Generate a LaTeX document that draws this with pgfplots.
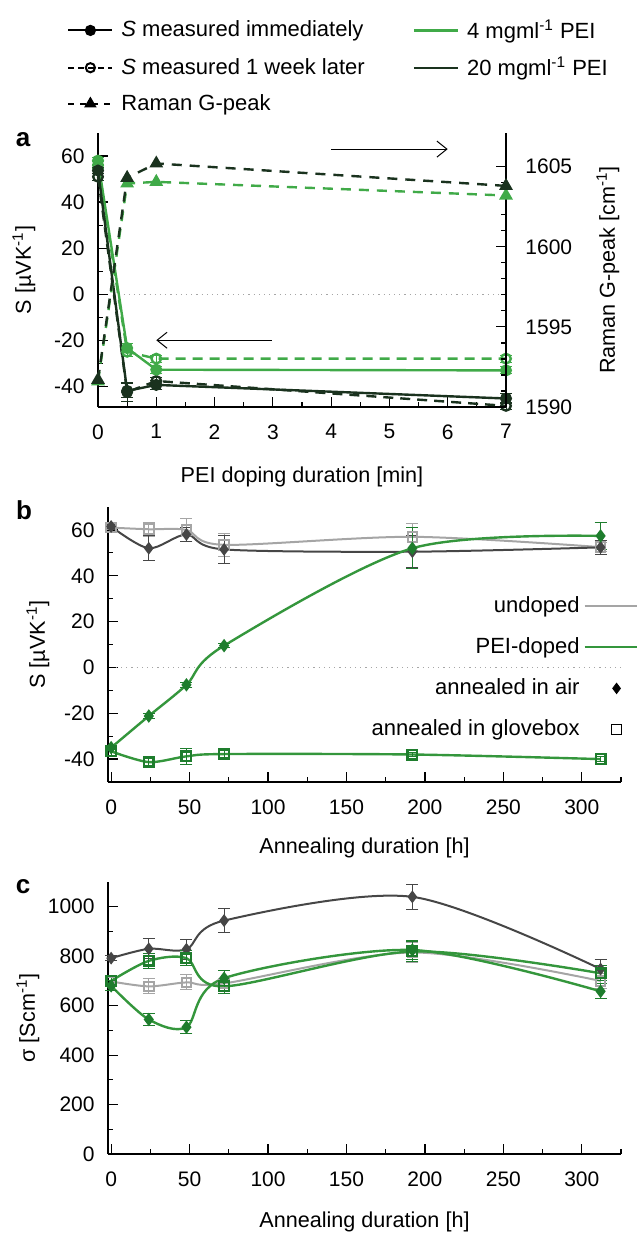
\documentclass[border=0pt]{standalone}
\usepackage{pgfplots}
\pgfplotsset{compat=1.18}
\usepackage{fontspec}
\setmainfont{Liberation Sans}
\usetikzlibrary{arrows.meta}
\definecolor{lgreen}{RGB}{64,170,72}
\definecolor{dgreen}{RGB}{26,50,30}
\definecolor{pgreen}{RGB}{52,150,60}
\definecolor{pgreenm}{RGB}{30,125,45}
\definecolor{dgray}{RGB}{70,70,70}
\definecolor{lgray}{RGB}{165,165,165}
\pgfplotsset{
  lineimg/.style={legend image code/.code={\draw[##1] (0pt,0pt) -- (26pt,0pt);}},
  markimg/.style={legend image code/.code={\draw[mark repeat=2,mark phase=2,##1] plot coordinates {(0pt,0pt) (16pt,0pt) (32pt,0pt)};}},
}
\begin{document}
\fontsize{10.5}{12.5}\selectfont
\begin{tikzpicture}
\useasboundingbox (0,0) rectangle (319pt,-616.5pt);
\pgfplotsset{
  every axis/.append style={
    scale only axis, clip=false,
    tick align=inside,
    major tick length=5pt, minor tick length=2.5pt,
    every tick/.style={black, line width=0.6pt},
    axis line style={line width=0.6pt},
    /pgf/number format/assume math mode=true,
    /pgf/number format/1000 sep={},
    tick label style={font=\fontsize{10.5}{12}\selectfont},
    label style={font=\fontsize{10.8}{13}\selectfont},
  },
  ebar/.style={error bars/.cd, y dir=both, y explicit,
    error bar style={line width=0.5pt, solid, color=#1},
    error mark options={rotate=90, mark size=3pt, line width=0.5pt, solid, color=#1}},
}
% ---------------- panel a, left axis
\begin{axis}[
  at={(49pt,-203.5pt)}, anchor=south west,
  width=204pt, height=137pt,
  xmin=0, xmax=7, ymin=-49, ymax=70,
  axis x line*=bottom, axis y line*=left,
  xtick={0,...,7}, minor x tick num=1,
  ytick={-40,-20,...,60}, minor y tick num=1,
  xticklabel style={yshift=-5pt},
  yticklabel style={xshift=-3pt},
  xlabel={PEI doping duration [min]},
  ylabel={S [µVK\textsuperscript{-1}]},
  xlabel style={at={(axis description cs:0.5,0)}, anchor=center, yshift=-35pt},
  ylabel style={at={(axis description cs:0,0.5)}, anchor=center, yshift=37pt},
  legend columns=2,
  legend style={draw=none, fill=none, inner sep=0pt,
    at={(axis description cs:-0.076,1.43)}, anchor=north west,
    font=\fontsize{11}{13}\selectfont, row sep=3.8pt,
    /tikz/column 1/.style={column sep=2pt},
    /tikz/column 2/.style={column sep=22pt},
    /tikz/column 3/.style={column sep=2pt}},
  legend cell align=left,
  legend image code/.code={\draw[mark repeat=2,mark phase=2,#1] plot coordinates {(0pt,0pt) (11pt,0pt) (22pt,0pt)};},
]
\addlegendimage{black, solid, line width=1pt, mark=*, mark size=2.3pt}
\addlegendentry{\textit{S} measured immediately}
\addlegendimage{lgreen, solid, line width=1.2pt}
\addlegendentry{4 mgml\textsuperscript{-1} PEI}
\addlegendimage{black, dash pattern=on 3pt off 2pt, line width=1pt, mark=o, mark size=2.3pt, mark options={solid, fill=white}}
\addlegendentry{\textit{S} measured 1 week later}
\addlegendimage{dgreen, solid, line width=1.2pt}
\addlegendentry{20 mgml\textsuperscript{-1} PEI}
\addlegendimage{black, dash pattern=on 3pt off 3pt, line width=1pt, mark=triangle*, mark size=2.6pt, mark options={solid}}
\addlegendentry{Raman G-peak}

\addplot[gray!70, dotted, line width=0.6pt, forget plot] coordinates {(0.35,0) (7,0)};
% green 1 week
\addplot[lgreen, dash pattern=on 5pt off 3.5pt, line width=1.2pt, mark=o, mark size=2.4pt,
  mark options={solid, fill=white}, forget plot, ebar=lgreen] coordinates {
  (0,56) +- (0,1.5) (0.5,-25) +- (0,2) (1,-28) +- (0,1.5) (7,-28) +- (0,1.5)};
% dark 1 week
\addplot[dgreen, dash pattern=on 5pt off 3.5pt, line width=1.2pt, mark=o, mark size=2.4pt,
  mark options={solid, fill=white}, forget plot, ebar=dgreen] coordinates {
  (0,51) +- (0,1.5) (0.5,-42.5) +- (0,4) (1,-37.7) +- (0,1.5) (7,-48.5) +- (0,1.5)};
% green immediate
\addplot[lgreen, solid, line width=1.2pt, mark=*, mark size=2.4pt, forget plot, ebar=lgreen] coordinates {
  (0,58) +- (0,1.5) (0.5,-23.4) +- (0,2) (1,-32.8) +- (0,1.5) (7,-33.1) +- (0,1.5)};
% dark immediate
\addplot[dgreen, solid, line width=1.2pt, mark=*, mark size=2.4pt, forget plot, ebar=dgreen] coordinates {
  (0,53.7) +- (0,1.5) (0.5,-42) +- (0,3) (1,-39.4) +- (0,2) (7,-45.3) +- (0,2)};
\draw[-{Straight Barb[length=5pt,width=8pt]}, line width=0.5pt] (axis cs:2.98,-20) -- (axis cs:1.0,-20);
\draw[-{Straight Barb[length=5pt,width=8pt]}, line width=0.5pt] (axis cs:4.0,63) -- (axis cs:6.0,63);
\end{axis}
% ---------------- panel a, right axis (Raman)
\begin{axis}[
  at={(49pt,-203.5pt)}, anchor=south west,
  width=204pt, height=137pt,
  xmin=0, xmax=7, ymin=1590, ymax=1607.1,
  axis x line=none, axis y line*=right,
  ytick={1590,1595,1600,1605}, minor y tick num=4,
  yticklabel style={xshift=6pt},
  ylabel={Raman G-peak [cm\textsuperscript{-1}]},
  ylabel style={at={(axis description cs:1,0.5)}, anchor=center, yshift=-51pt},
]
\addplot[lgreen, dash pattern=on 5pt off 4pt, line width=1.2pt, mark=triangle*, mark size=2.8pt, mark options={solid}] coordinates {
  (0,1591.6) (0.5,1603.95) (1,1604.05) (7,1603.2)};
\addplot[dgreen, dash pattern=on 5pt off 4pt, line width=1.2pt, mark=triangle*, mark size=2.8pt, mark options={solid}] coordinates {
  (0,1591.7) (0.5,1604.3) (1,1605.2) (7,1603.8)};
\end{axis}
% ---------------- panel b
\begin{axis}[
  at={(54pt,-391pt)}, anchor=south west,
  width=256.5pt, height=137.5pt,
  xmin=-2, xmax=325, ymin=-50, ymax=70,
  axis x line*=bottom, axis y line*=left,
  xtick={0,50,...,300}, minor x tick num=1,
  extra x ticks={325}, extra x tick labels={}, extra x tick style={major tick length=2.5pt},
  ytick={-40,-20,...,60}, minor y tick num=1,
  xticklabel style={yshift=-5pt},
  yticklabel style={xshift=-3pt},
  xlabel={Annealing duration [h]},
  ylabel={S [µVK\textsuperscript{-1}]},
  xlabel style={at={(axis description cs:0.5,0)}, anchor=center, yshift=-33pt},
  ylabel style={at={(axis description cs:0,0.5)}, anchor=center, yshift=35pt},
  legend style={draw=none, fill=none, inner sep=0pt,
    at={(axis description cs:1.0331,0.69)}, anchor=north east,
    font=\fontsize{11}{13}\selectfont, row sep=7pt},
  legend cell align=right, legend plot pos=right,
  smooth, tension=0.5,
]
\addlegendimage{lgray, line width=1pt, lineimg}
\addlegendentry{undoped}
\addlegendimage{pgreen, line width=1pt, lineimg}
\addlegendentry{PEI-doped}
\addlegendimage{only marks, black, mark=diamond*, mark size=2.6pt, markimg}
\addlegendentry{annealed in air}
\addlegendimage{only marks, black, mark=square, mark size=2.4pt, markimg}
\addlegendentry{annealed in glovebox}

\addplot[gray!70, dotted, line width=0.6pt, forget plot, sharp plot] coordinates {(3,0) (325,0)};
% undoped glovebox
\addplot[lgray, line width=1pt, mark=square, mark size=2.4pt, mark options={fill=white}, forget plot, ebar=lgray] coordinates {
  (0,61) +- (0,1) (24,60.3) +- (0,3) (48,60) +- (0,5) (72,53.5) +- (0,5) (192,57) +- (0,6) (312,52.5) +- (0,2)};
% undoped air
\addplot[dgray, line width=1pt, mark=diamond*, mark size=2.4pt, forget plot, ebar=dgray] coordinates {
  (0,61.5) +- (0,1) (24,52) +- (0,5.5) (48,58) +- (0,3) (72,51.5) +- (0,6) (192,50.5) +- (0,7) (312,52.4) +- (0,3)};
% PEI glovebox
\addplot[pgreen, line width=1.2pt, mark=square, mark size=2.4pt, mark options={draw=pgreenm, fill=pgreen!30}, forget plot, ebar=pgreenm] coordinates {
  (0,-36.6) +- (0,2) (24,-41.3) +- (0,1.5) (48,-38.8) +- (0,3.5) (72,-37.8) +- (0,1.5) (192,-38) +- (0,1) (312,-40) +- (0,1)};
% PEI air
\addplot[pgreen, line width=1.2pt, mark=diamond*, mark size=2.4pt, mark options={draw=pgreenm, fill=pgreenm}, forget plot, ebar=pgreenm] coordinates {
  (0,-35) +- (0,1) (24,-21.2) +- (0,1) (48,-7.6) +- (0,1) (72,9.5) +- (0,1) (192,52) +- (0,9) (312,57.4) +- (0,6)};
\end{axis}
% ---------------- panel c
\begin{axis}[
  at={(54pt,-577pt)}, anchor=south west,
  width=256.5pt, height=136pt,
  xmin=-2, xmax=325, ymin=0, ymax=1100,
  axis x line*=bottom, axis y line*=left,
  xtick={0,50,...,300}, minor x tick num=1,
  extra x ticks={325}, extra x tick labels={}, extra x tick style={major tick length=2.5pt},
  ytick={0,200,...,1000}, minor y tick num=1,
  xticklabel style={yshift=-5pt},
  yticklabel style={xshift=-3pt},
  xlabel={Annealing duration [h]},
  ylabel={σ [Scm\textsuperscript{-1}]},
  xlabel style={at={(axis description cs:0.5,0)}, anchor=center, yshift=-34pt},
  ylabel style={at={(axis description cs:0,0.5)}, anchor=center, yshift=40pt},
  smooth, tension=0.5,
]
% undoped glovebox
\addplot[lgray, line width=1pt, mark=square, mark size=2.4pt, mark options={fill=white}, ebar=lgray] coordinates {
  (0,698) +- (0,20) (24,678) +- (0,30) (48,694) +- (0,30) (72,690) +- (0,20) (192,815) +- (0,40) (312,700) +- (0,30)};
% undoped air
\addplot[dgray, line width=1pt, mark=diamond*, mark size=2.4pt, ebar=dgray] coordinates {
  (0,792) +- (0,10) (24,830) +- (0,40) (48,828) +- (0,40) (72,944) +- (0,50) (192,1040) +- (0,50) (312,748) +- (0,40)};
% PEI glovebox
\addplot[pgreen, line width=1.2pt, mark=square, mark size=2.4pt, mark options={draw=pgreenm, fill=pgreen!30}, ebar=pgreenm] coordinates {
  (0,700) +- (0,20) (24,781) +- (0,30) (48,792) +- (0,30) (72,678) +- (0,30) (192,819) +- (0,40) (312,731) +- (0,30)};
% PEI air
\addplot[pgreen, line width=1.2pt, mark=diamond*, mark size=2.4pt, mark options={draw=pgreenm, fill=pgreenm}, ebar=pgreenm] coordinates {
  (0,680) +- (0,20) (24,544) +- (0,25) (48,513) +- (0,25) (72,711) +- (0,30) (192,825) +- (0,40) (312,658) +- (0,30)};
\end{axis}
\node[font=\bfseries\fontsize{13}{15}\selectfont] at (11.5pt,-70pt) {a};
\node[font=\bfseries\fontsize{13}{15}\selectfont] at (12pt,-255pt) {b};
\node[font=\bfseries\fontsize{13}{15}\selectfont] at (11.5pt,-443.5pt) {c};
\end{tikzpicture}
\end{document}
